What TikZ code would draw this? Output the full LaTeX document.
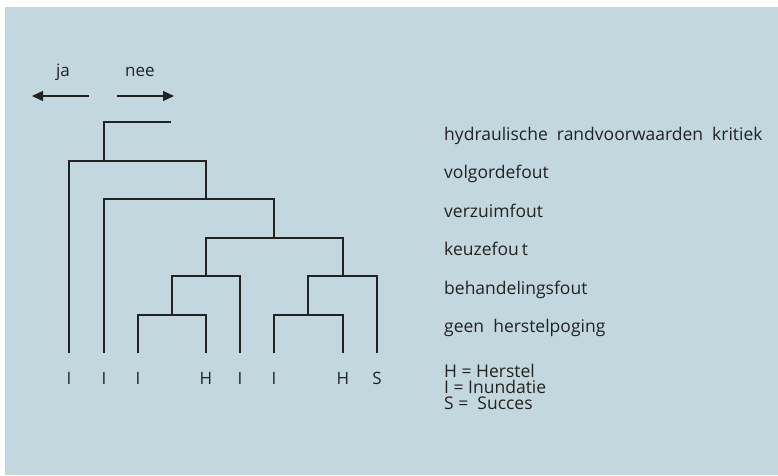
\documentclass[tikz,border=0pt]{standalone}
\usepackage{fontspec}
\setmainfont{Open Sans}
\usetikzlibrary{arrows.meta,positioning}
\definecolor{achtergrond}{HTML}{C3D8DE}
\definecolor{inkt}{HTML}{222222}
\tikzset{tak/.style={line width=2pt,draw=inkt},
  blad/.style={inner sep=0pt,anchor=base,text=inkt,font=\fontsize{17}{18}\selectfont},
  tekst/.style={inner sep=0pt,anchor=base west,text=inkt,font=\fontsize{17.5}{18}\selectfont},
  pijl/.style={-{Triangle[length=11pt,width=10pt]},line width=1.3pt,draw=inkt}}
\begin{document}
\begin{tikzpicture}[x=1pt,y=-1pt]
\useasboundingbox (0,0) rectangle (778,475);
\fill[achtergrond] (5,7) rectangle (778,475);
% ja / nee
\node[blad] (ja) at (63,76) {ja};
\node[blad] (nee) at (140,76) {nee};
\coordinate (jaA) at (89,96);
\coordinate (jaB) at (32,96);
\coordinate (neeA) at (117,96);
\coordinate (neeB) at (174,96);
\draw[pijl] (jaA) -- (jaB);
\draw[pijl] (neeA) -- (neeB);
% boom
\coordinate (stomp) at (171,122);
\coordinate (b0) at (104,161);
\coordinate (b1) at (206,199);
\coordinate (b2) at (274,238);
\coordinate (b3) at (206,276);
\coordinate (b4) at (343,276);
\coordinate (b5) at (172,315);
\coordinate (b6) at (308,315);
\foreach \x/\t [count=\i] in {69/I,104/I,138/I,206/H,240/I,274/I,343/H,377/S}{
  \coordinate (l\i) at (\x,353);
  \node[blad] (t\i) at (\x,384.5) {\t};
}
\draw[tak] (stomp) -| (b0);
\draw[tak] (l1) |- (b0) -| (b1);
\draw[tak] (l2) |- (b1) -| (b2);
\draw[tak] (b3) |- (b2) -| (b4);
\draw[tak] (b5) |- (b3) -| (l5);
\draw[tak] (b6) |- (b4) -| (l8);
\draw[tak] (l3) |- (b5) -| (l4);
\draw[tak] (l6) |- (b6) -| (l7);
% teksten
\node[tekst] (hrk) at (444,140) {hydraulische\ \ randvoorwaarden\ \ kritiek};
\node[tekst] (vol) at (444,178.5) {volgordefout};
\node[tekst] (ver) at (444,217) {verzuimfout};
\node[tekst] (keu) at (444,255.5) {keuzefou\,t};
\node[tekst] (beh) at (444,294) {behandelingsfout};
\node[tekst] (geen) at (444,332.5) {geen\ \ herstelpoging};
\node[tekst] (legH) at (444,377.5) {H = Herstel};
\node[tekst] (legI) at (444,393.5) {I = Inundatie};
\node[tekst] (legS) at (444,409.5) {S =\ \ Succes};
\end{tikzpicture}
\end{document}
